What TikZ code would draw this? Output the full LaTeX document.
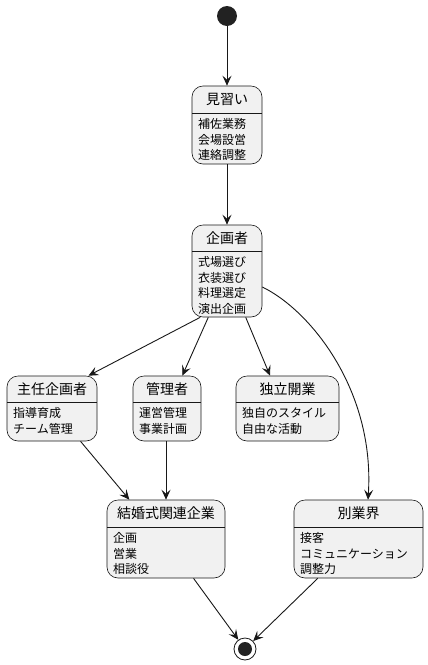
\documentclass[tikz,border=0pt]{standalone}
\usepackage{fontspec}
\setmainfont{Noto Sans CJK JP}
\usetikzlibrary{arrows.meta}
\definecolor{boxfill}{HTML}{F1F1F1}
\definecolor{ink}{HTML}{181818}
\definecolor{dot}{HTML}{222222}
\tikzset{
  statebox/.style={draw=ink, fill=boxfill, line width=0.6pt, rounded corners=11pt, inner sep=0pt},
  titletext/.style={font=\fontsize{14}{16}\selectfont, inner sep=0pt, text=black},
  bodytext/.style={font=\fontsize{12}{15.5}\selectfont, inner sep=0pt, align=left, anchor=north west, text=black},
  sepline/.style={draw=ink, line width=0.6pt},
  flow/.style={draw=ink, line width=0.9pt, -{Stealth[length=10pt,width=9pt,inset=4pt]}},
  startdot/.style={circle, fill=dot, minimum size=20pt, inner sep=0pt},
  enddot/.style={circle, draw=ink, fill=white, line width=0.8pt, minimum size=22pt, inner sep=0pt},
  enddotin/.style={circle, fill=dot, minimum size=14pt, inner sep=0pt}
}
% \mystate{name}{L}{T}{R}{B}{sep}{title}{body}
\newcommand{\mystate}[8]{%
  \node[statebox, minimum width={#4-#2}, minimum height={#5-#3}] (#1) at ({(#2+#4)/2},{(#3+#5)/2}) {};
  \draw[sepline] (#2,#6) -- (#4,#6);
  \node[titletext] (#1t) at ({(#2+#4)/2},{(#3+#6)/2}) {#7};
  \node[bodytext] (#1b) at ({#2+6},{#6+5.5}) {#8};
}
\begin{document}
\begin{tikzpicture}[x=1pt,y=-1pt]
\useasboundingbox (0,0) rectangle (428,665);
\node[startdot] (start) at (227,16) {};
\mystate{A}{192}{86}{262}{164}{113}{見習い}{補佐業務\\会場設営\\連絡調整}
\mystate{B}{192}{225}{262}{317}{251}{企画者}{式場選び\\衣装選び\\料理選定\\演出企画}
\mystate{C}{7}{376}{97}{441}{402}{主任企画者}{指導育成\\チーム管理}
\mystate{D}{133}{376}{201}{441}{402}{管理者}{運営管理\\事業計画}
\mystate{E}{236}{376}{339}{441}{402}{独立開業}{独自のスタイル\\自由な活動}
\mystate{F}{107}{500}{225}{578}{527}{結婚式関連企業}{企画\\営業\\相談役}
\mystate{G}{294}{500}{423}{578}{527}{別業界}{接客\\コミュニケーション\\調整力}
\node[enddot] (end) at (245,649) {};
\node[enddotin] (endin) at (245,649) {};
\draw[flow] (start) -- (A.north);
\draw[flow] (A.south) -- (B.north);
\draw[flow] (B.-120) -- (C.42);
\draw[flow] (B.-112) -- (D.65);
\draw[flow] (B.-68) -- (E.118);
\draw[flow] (B.east |- 0,287) .. controls (310,310) and (375,390) .. (G.north -| 368,0);
\draw[flow] (C.-49) -- (F.133);
\draw[flow] (D.south -| 166,0) -- (F.north -| 166,0);
\draw[flow] (F.-55) -- (end);
\draw[flow] (G.-136) -- (end);
\end{tikzpicture}
\end{document}
